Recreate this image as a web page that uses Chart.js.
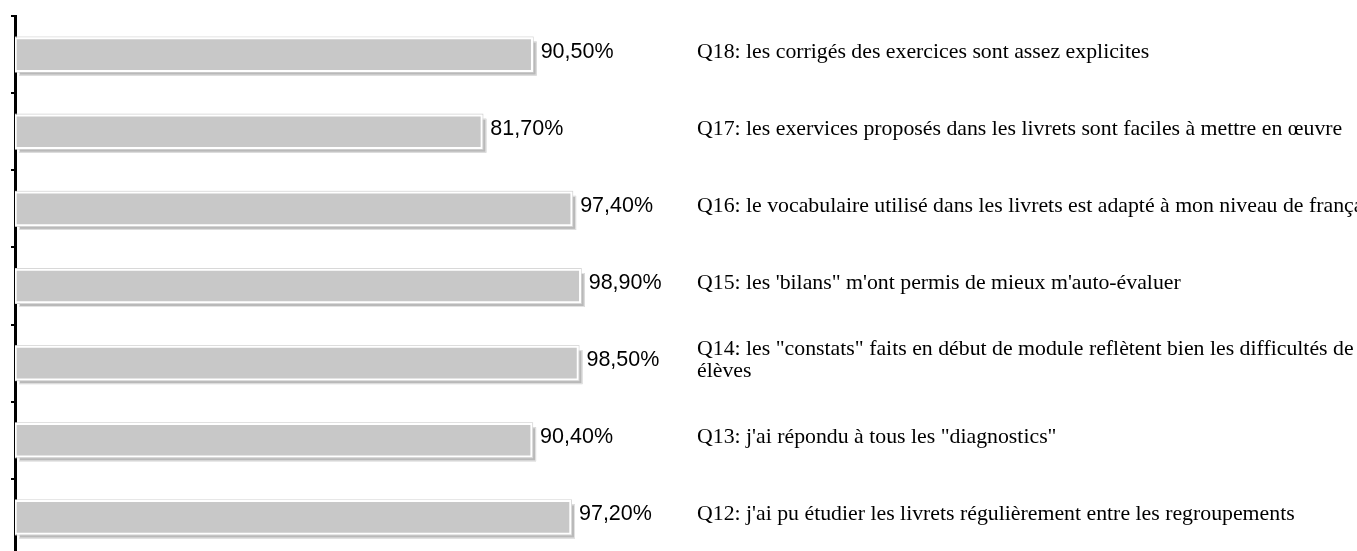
<!DOCTYPE html>
<html lang="fr">
<head>
  <meta charset="UTF-8">
  <title>Questionnaire livrets</title>
  <script src="https://cdn.jsdelivr.net/npm/chart.js"></script>
  <style>
    html, body {
      margin: 0;
      padding: 0;
      background: #ffffff;
      overflow: hidden;
    }
    #wrap {
      position: relative;
      width: 1357px;
      height: 560px;
    }
  </style>
</head>
<body>
  <div id="wrap"><canvas id="chart"></canvas></div>

  <script>
    // questions, top to bottom
    const questions = [
      ['Q18: les corrigés des exercices sont assez explicites'],
      ['Q17: les exervices proposés dans les livrets sont faciles à mettre en œuvre'],
      ['Q16: le vocabulaire utilisé dans les livrets est adapté à mon niveau de français'],
      ['Q15: les \'bilans" m\'ont permis de mieux m\'auto-évaluer'],
      ['Q14: les "constats" faits en début de module reflètent bien les difficultés de', 'élèves'],
      ['Q13: j\'ai répondu à tous les "diagnostics"'],
      ['Q12: j\'ai pu étudier les livrets régulièrement entre les regroupements']
    ];
    const percents = [90.5, 81.7, 97.4, 98.9, 98.5, 90.4, 97.2];

    const fmt = v => v.toFixed(2).replace('.', ',') + '%';

    // grey drop shadow + thin outer line behind each bar
    const barShadow = {
      id: 'barShadow',
      beforeDatasetsDraw(chart) {
        const c = chart.ctx;
        chart.getDatasetMeta(0).data.forEach(bar => {
          const p = bar.getProps(['x', 'y', 'base', 'height'], true);
          const top = p.y - p.height / 2;
          const w = p.x - p.base;
          c.save();
          c.fillStyle = '#b9b9b9';
          c.fillRect(p.base + 4, top + 4, w, p.height);
          c.strokeStyle = '#e2e2e2';
          c.lineWidth = 1;
          c.strokeRect(p.base + 4.5, top + 4.5, w - 1, p.height - 1);
          c.strokeStyle = '#d6d6d6';
          c.strokeRect(p.base + 0.5, top - 0.5, w, p.height + 1);
          c.restore();
        });
      }
    };

    // value on the bar end, question text on the right
    const barText = {
      id: 'barText',
      afterDraw(chart) {
        const c = chart.ctx;
        c.save();
        c.fillStyle = '#000';
        c.textBaseline = 'alphabetic';
        chart.getDatasetMeta(0).data.forEach((bar, i) => {
          const p = bar.getProps(['x', 'y'], true);
          const base = p.y + 3;
          c.font = '21.5px "Liberation Sans", Arial, sans-serif';
          c.textAlign = 'left';
          c.fillText(fmt(percents[i]), p.x + 8, base);

          c.font = '21.8px "Liberation Serif", "Times New Roman", serif';
          const lines = questions[i];
          const lh = 21.7;
          let y0 = base - (lines.length - 1) * lh / 2;
          lines.forEach((t, k) => c.fillText(t, 697, y0 + k * lh));
        });
        c.restore();
      }
    };

    new Chart(document.getElementById('chart'), {
      type: 'bar',
      data: {
        labels: questions.map(q => q.join(' ')),
        datasets: [{
          data: percents,
          backgroundColor: '#c8c8c8',
          borderColor: '#ffffff',
          borderWidth: 2,
          borderSkipped: false,
          barThickness: 34
        }]
      },
      options: {
        indexAxis: 'y',
        responsive: true,
        maintainAspectRatio: false,
        animation: false,
        layout: {
          padding: { top: 16, bottom: 4, left: 11, right: 770 }
        },
        scales: {
          x: {
            display: false,
            min: 0,
            max: 100
          },
          y: {
            offset: true,
            grid: {
              display: true,
              drawOnChartArea: false,
              drawTicks: true,
              tickLength: 4,
              color: '#000',
              lineWidth: 2
            },
            border: { display: true, color: '#000', width: 3 },
            ticks: { display: false }
          }
        },
        plugins: {
          legend: { display: false },
          tooltip: { enabled: false }
        }
      },
      plugins: [barShadow, barText]
    });
  </script>
</body>
</html>
